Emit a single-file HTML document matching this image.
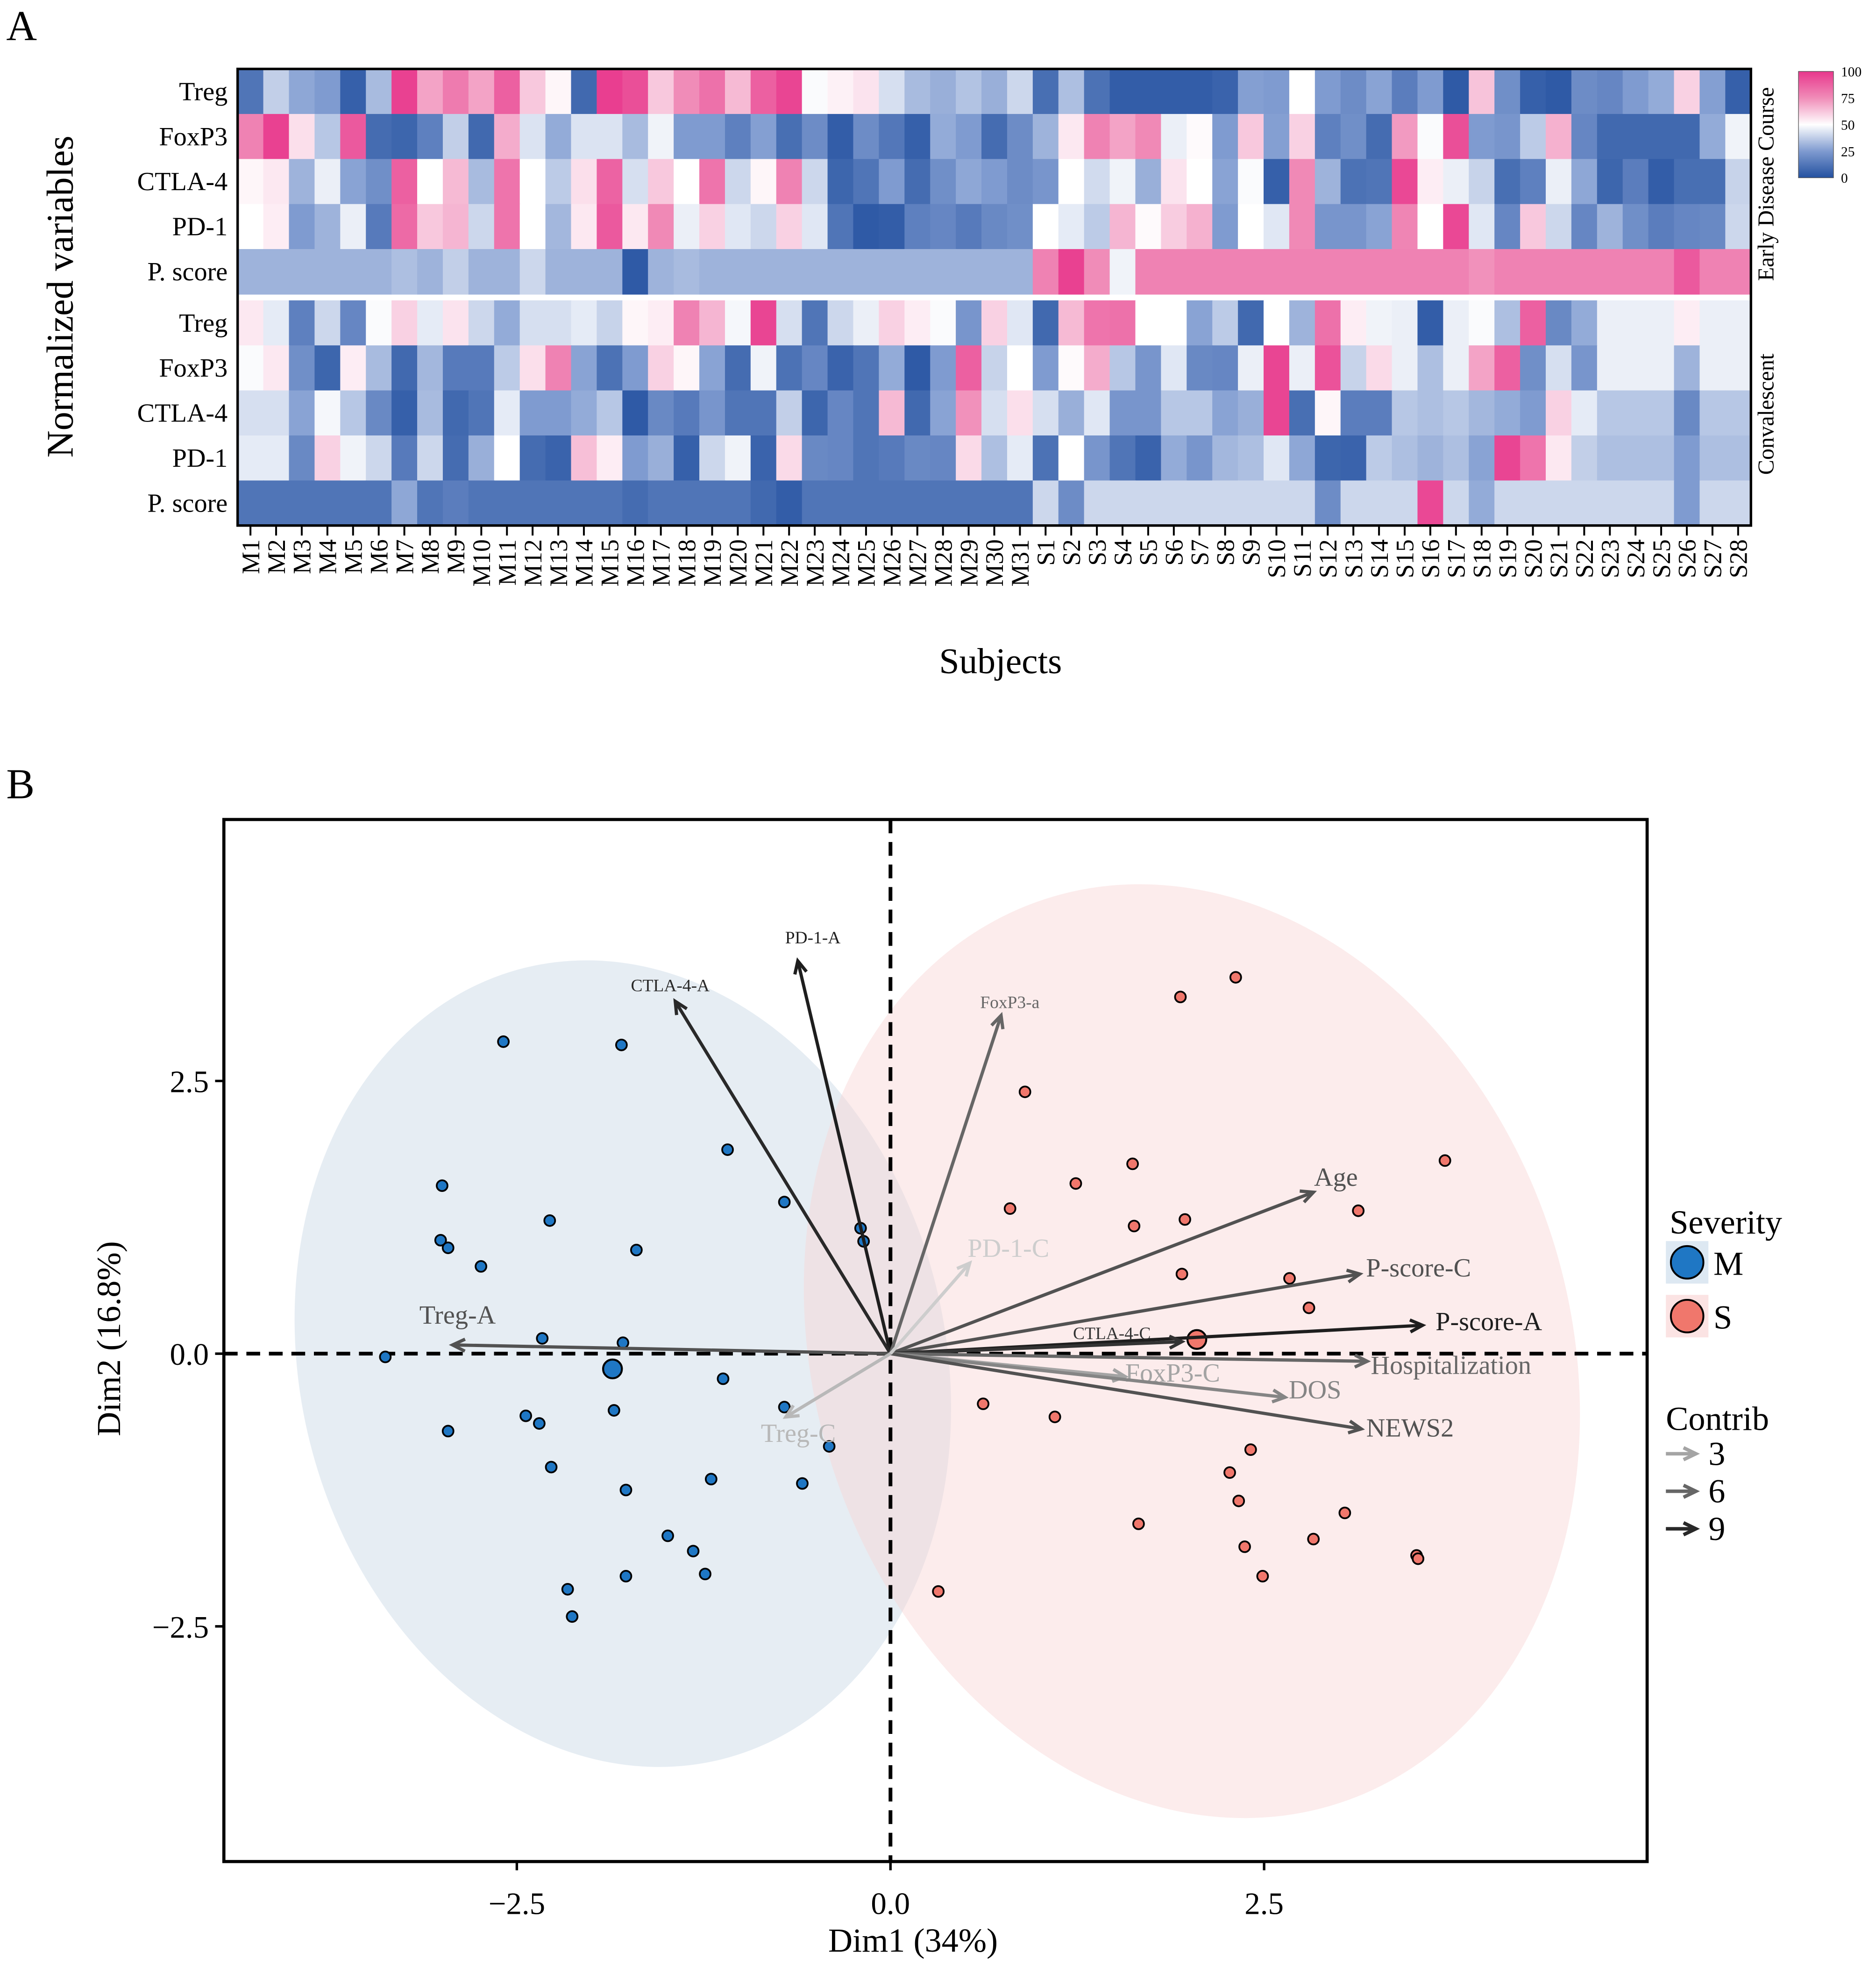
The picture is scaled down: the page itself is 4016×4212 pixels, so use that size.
<!DOCTYPE html>
<html><head><meta charset="utf-8">
<style>
html,body{margin:0;padding:0;background:#fff;}
svg{display:block;font-family:"Liberation Serif",serif;}
</style></head>
<body>
<svg id="fig" xmlns="http://www.w3.org/2000/svg" width="4016" height="4212" viewBox="0 0 1500 1573">
<rect x="0" y="0" width="1500" height="1573" fill="#fff"/>
<text x="5" y="32" font-size="34">A</text>
<text x="5" y="638" font-size="34">B</text>
<g id="heat"></g>
<g id="pca"></g>
</svg>
<script>
// ---------- Heatmap data ----------
const subjects = ["M1","M2","M3","M4","M5","M6","M7","M8","M9","M10","M11","M12","M13","M14","M15","M16","M17","M18","M19","M20","M21","M22","M23","M24","M25","M26","M27","M28","M29","M30","M31","S1","S2","S3","S4","S5","S6","S7","S8","S9","S10","S11","S12","S13","S14","S15","S16","S17","S18","S19","S20","S21","S22","S23","S24","S25","S26","S27","S28"];
const rowLabels = ["Treg","FoxP3","CTLA-4","PD-1","P. score","Treg","FoxP3","CTLA-4","PD-1","P. score"];
const earlyTreg = [12,38,28,25,5,33,97,70,80,70,88,62,52,8,98,93,62,75,83,65,88,96,49,53,56,42,33,30,35,30,40,10,34,11,4,4,4,4,6,26,25,50,25,20,27,15,25,3,63,21,5,3,20,18,25,29,60,26,5];
const earlyFoxP3 = [78,97,57,36,90,9,7,16,38,8,68,43,29,43,43,33,47,25,25,16,26,10,20,4,20,13,5,29,25,9,20,31,55,78,70,76,46,51,25,62,26,60,16,21,9,72,49,93,25,23,37,67,18,8,8,8,8,29,47];
const earlyCTLA4 = [52,55,31,46,27,21,88,50,65,33,82,50,37,57,87,42,62,50,82,40,52,78,40,7,12,25,9,21,28,25,20,23,50,41,47,30,56,50,27,49,5,76,31,11,12,95,54,46,39,10,16,46,28,7,15,4,10,10,39];
const earlyPD1 = [50,54,25,31,46,14,85,62,66,40,82,50,32,55,90,55,76,46,60,44,40,60,44,12,3,4,16,18,14,19,21,50,45,37,66,51,61,67,25,50,44,76,23,23,27,77,50,95,44,18,62,40,18,31,21,15,18,19,40];
const earlyPscore = [31,31,31,31,31,31,34,31,38,31,31,40,31,31,31,3,31,33,31,31,31,31,31,31,31,31,31,31,31,31,31,78,97,75,47,78,78,78,78,78,78,78,78,78,78,78,78,78,74,78,78,78,78,78,78,78,90,78,78];
const convTreg = [55,45,16,40,18,49,60,45,56,40,29,42,42,45,39,52,54,78,66,48,96,42,12,40,46,60,54,49,23,60,44,8,65,82,83,50,50,27,37,8,50,31,83,54,47,46,4,46,49,34,88,19,29,46,46,46,54,46,46];
const convFoxP3 = [49,55,21,7,54,33,8,32,14,14,37,57,78,27,11,25,60,52,27,9,47,11,18,6,12,29,3,25,88,39,50,25,51,68,36,23,44,19,18,46,96,46,92,39,58,46,34,46,70,88,21,42,23,46,46,46,31,46,46];
const convCTLA4 = [42,42,27,48,36,19,5,33,8,12,45,25,25,29,36,3,19,14,23,12,12,38,7,18,12,65,8,27,74,42,57,42,30,44,23,23,36,36,27,30,96,10,52,15,15,36,34,36,32,29,25,60,45,36,36,36,19,36,36];
const convPD1 = [45,45,19,60,47,40,14,40,9,30,50,9,6,64,54,25,30,5,40,47,6,58,19,18,12,14,19,18,58,34,45,11,50,23,12,6,29,23,32,34,44,28,7,6,37,34,31,34,27,96,82,55,38,34,34,34,25,34,34];
const convPscore = [12,12,12,12,12,12,28,12,15,12,12,12,12,12,12,9,12,12,12,12,8,4,12,12,12,12,12,12,12,12,12,40,20,40,40,40,40,40,40,40,40,40,20,40,40,40,95,40,29,40,40,40,40,40,40,40,25,40,40];
const heatRows = [earlyTreg,earlyFoxP3,earlyCTLA4,earlyPD1,earlyPscore,convTreg,convFoxP3,convCTLA4,convPD1,convPscore];
const legendTicks = [100,75,50,25,0];

// ---------- PCA data ----------
const mildX = [-2.59,-1.80,-1.09,-3.00,-2.28,-0.71,-3.01,-2.96,-1.70,-2.74,-2.33,-1.79,-3.38,-2.96,-2.44,-2.35,-2.27,-1.85,-1.12,-0.71,-0.41,-1.20,-0.59,-1.77,-1.49,-1.32,-1.24,-1.77,-2.16,-2.13,-0.20,-0.18];
const mildY = [2.86,2.83,1.87,1.54,1.22,1.39,1.04,0.97,0.95,0.80,0.14,0.10,-0.03,-0.71,-0.57,-0.64,-1.04,-0.52,-0.23,-0.49,-0.85,-1.15,-1.19,-1.25,-1.67,-1.81,-2.02,-2.04,-2.16,-2.41,1.15,1.03];
const severeX = [2.31,1.94,0.90,3.71,1.62,1.24,0.80,3.13,1.63,1.97,1.95,2.67,2.80,0.62,1.10,2.41,2.27,2.33,3.04,1.66,2.83,2.37,2.49,3.52,3.53,0.32];
const severeY = [3.45,3.27,2.40,1.77,1.74,1.56,1.33,1.31,1.17,1.23,0.73,0.69,0.42,-0.46,-0.58,-0.88,-1.09,-1.35,-1.46,-1.56,-1.70,-1.77,-2.04,-1.85,-1.88,-2.18];
const groupMeanX = [-1.86, 2.05];
const groupMeanY = [-0.14, 0.13];
const varNames = ["PD-1-A","CTLA-4-A","FoxP3-a","Age","P-score-C","P-score-A","CTLA-4-C","Hospitalization","FoxP3-C","DOS","NEWS2","Treg-A","Treg-C","PD-1-C"];
const varX = [-0.62,-1.44,0.74,2.83,3.14,3.56,1.95,3.19,1.57,2.64,3.15,-2.93,-0.70,0.53];
const varY = [3.60,3.23,3.10,1.48,0.73,0.26,0.11,-0.07,-0.21,-0.40,-0.69,0.08,-0.58,0.83];
const varContrib = [9.5,9,6,7,7,9.5,8.5,6,3,4.5,7,7,2,1];
const xTicks = [-2.5,0,2.5];
const yTicks = [2.5,0,-2.5];
const contribLegend = [3,6,9];

const NS="http://www.w3.org/2000/svg";
function mk(tag,attrs,parent,text){const e=document.createElementNS(NS,tag);for(const k in attrs)e.setAttribute(k,attrs[k]);if(text!==undefined)e.textContent=text;parent.appendChild(e);return e;}
function hex(c){return [parseInt(c.slice(1,3),16),parseInt(c.slice(3,5),16),parseInt(c.slice(5,7),16)];}
const stops=[[0,"#2451a0"],[25,"#7f9bd0"],[50,"#ffffff"],[75,"#f08cb8"],[100,"#e8378c"]];
function colorOf(v){v=Math.max(0,Math.min(100,v));for(let i=0;i<stops.length-1;i++){const a=stops[i],b=stops[i+1];if(v<=b[0]){const t=(v-a[0])/(b[0]-a[0]);const ca=hex(a[1]),cb=hex(b[1]);return "rgb("+ca.map((x,j)=>Math.round(x+(cb[j]-x)*t)).join(",")+")";}}return stops[4][1];}

// ---------- Draw heatmap ----------
const H=document.getElementById('heat');
const hx0=190,hx1=1400,cw=(hx1-hx0)/subjects.length,rh=36,gap=5,hy0=55;
function rowY(r){return hy0+r*rh+(r>=5?gap:0);}
heatRows.forEach((row,r)=>{
  row.forEach((v,c)=>{
    const cell=mk('rect',{x:hx0+c*cw,y:rowY(r),width:cw+0.6,height:rh+0.4,fill:colorOf(v)},H);
    
    
  });
  const t=mk('text',{x:182,y:rowY(r)+rh/2+7,'font-size':21,'text-anchor':'end'},H,rowLabels[r]);
  
  
});
const hb=mk('rect',{x:hx0,y:hy0,width:hx1-hx0,height:rowY(9)+rh-hy0,fill:'none',stroke:'#000','stroke-width':2},H);


subjects.forEach((s,c)=>{
  const cx=hx0+(c+0.5)*cw;
  const tk=mk('line',{x1:cx,y1:421,x2:cx,y2:428,stroke:'#000','stroke-width':1.5},H);
  
  
  const t=mk('text',{x:cx+7,y:431,'font-size':20,'text-anchor':'end',transform:'rotate(-90 '+(cx+7)+' 431)'},H,s);
  
  
});
let t1=mk('text',{x:800,y:538,'font-size':29,'text-anchor':'middle'},H,'Subjects');


t1=mk('text',{x:58,y:237,'font-size':30,'text-anchor':'middle',transform:'rotate(-90 58 237)'},H,'Normalized variables');


t1=mk('text',{x:1418,y:147,'font-size':18,'text-anchor':'middle',transform:'rotate(-90 1418 147)'},H,'Early Disease Course');


t1=mk('text',{x:1418,y:331,'font-size':18,'text-anchor':'middle',transform:'rotate(-90 1418 331)'},H,'Convalescent');


// colour legend
const defs=mk('defs',{},H);
const lg=mk('linearGradient',{id:'cg',x1:0,y1:1,x2:0,y2:0},defs);
stops.forEach(s=>mk('stop',{offset:s[0]+'%','stop-color':s[1]},lg));
const lb=mk('rect',{x:1438,y:57,width:28,height:85,fill:'url(#cg)',stroke:'#555','stroke-width':0.5},H);


legendTicks.forEach(v=>{
  const y=142-v/100*85;
  const t=mk('text',{x:1472,y:y+4,'font-size':11},H,String(v));
  
  
});

// ---------- Draw PCA ----------
const P=document.getElementById('pca');
const px0=179,px1=1317,py0=655,py1=1488;
function sx(v){return 712+v*119.5;}
function sy(v){return 1082-v*87.2;}
let e=mk('ellipse',{cx:498,cy:1090,rx:258,ry:326,fill:'#c8d6e5','fill-opacity':0.45,transform:'rotate(-14 498 1090)'},P);


e=mk('ellipse',{cx:953,cy:1080,rx:302,ry:380,fill:'#f9d4d4','fill-opacity':0.45,transform:'rotate(-18 953 1080)'},P);


let ln=mk('line',{x1:sx(0),y1:py0,x2:sx(0),y2:py1,stroke:'#000','stroke-width':3,'stroke-dasharray':'11 7'},P);


ln=mk('line',{x1:px0,y1:sy(0),x2:px1,y2:sy(0),stroke:'#000','stroke-width':3,'stroke-dasharray':'11 7'},P);


// points
function pts(X,Y,fill,name){X.forEach((v,i)=>{const c=mk('circle',{cx:sx(v),cy:sy(Y[i]),r:4.3,fill:fill,stroke:'#000','stroke-width':1.4},P);});}
pts(mildX,mildY,'#1f77c4','mild-point');
pts(severeX,severeY,'#f0776c','severe-point');
groupMeanX.forEach((v,i)=>{const c=mk('circle',{cx:sx(v),cy:sy(groupMeanY[i]),r:7.5,fill:i?'#f0776c':'#1f77c4',stroke:'#000','stroke-width':1.6},P);});
// arrows
function grey(c){const g=Math.round(225-c/10*205);return 'rgb('+g+','+g+','+g+')';}
const labelOff={"PD-1-A":[12,-14,'middle',14],"CTLA-4-A":[-4,-8,'middle',14],"FoxP3-a":[7,-6,'middle',14],"Age":[18,-5,'middle',21],"P-score-C":[47,2,'middle',21],"P-score-A":[53,4,'middle',21],"CTLA-4-C":[-56,-2,'middle',14],"Hospitalization":[67,10,'middle',21],"FoxP3-C":[38,4,'middle',21],"DOS":[24,1,'middle',21],"NEWS2":[39,6,'middle',21],"Treg-A":[4,-17,'middle',21],"Treg-C":[10,20,'middle',21],"PD-1-C":[31,-5,'middle',21]};
function arrow(x1,y1,x2,y2,col,w){
  const g=mk('g',{},P);
  mk('line',{x1:x1,y1:y1,x2:x2,y2:y2,stroke:col,'stroke-width':w},g);
  const a=Math.atan2(y2-y1,x2-x1),L=11,s=0.45;
  mk('polyline',{points:(x2-L*Math.cos(a-s))+','+(y2-L*Math.sin(a-s))+' '+x2+','+y2+' '+(x2-L*Math.cos(a+s))+','+(y2-L*Math.sin(a+s)),fill:'none',stroke:col,'stroke-width':w},g);
  return g;
}
varNames.forEach((n,i)=>{
  const col=grey(varContrib[i]);
  const g=arrow(sx(0),sy(0),sx(varX[i]),sy(varY[i]),col,2.6);
  
  
  const o=labelOff[n];
  const t=mk('text',{x:sx(varX[i])+o[0],y:sy(varY[i])+o[1],'font-size':o[3],'text-anchor':o[2],fill:col},P,n);
  
  
});
const fr=mk('rect',{x:px0,y:py0,width:px1-px0,height:py1-py0,fill:'none',stroke:'#000','stroke-width':2.5},P);


xTicks.forEach(v=>{
  const tk=mk('line',{x1:sx(v),y1:py1,x2:sx(v),y2:py1+7,stroke:'#000','stroke-width':2},P);
  
  
  const t=mk('text',{x:sx(v),y:1530,'font-size':25,'text-anchor':'middle'},P,v===0?'0.0':(v<0?'\u2212':'')+Math.abs(v).toFixed(1));
  
  
});
yTicks.forEach(v=>{
  const tk=mk('line',{x1:px0-7,y1:sy(v),x2:px0,y2:sy(v),stroke:'#000','stroke-width':2},P);
  
  
  const t=mk('text',{x:167,y:sy(v)+9,'font-size':25,'text-anchor':'end'},P,v===0?'0.0':(v<0?'\u2212':'')+Math.abs(v).toFixed(1));
  
  
});
t1=mk('text',{x:730,y:1560,'font-size':27,'text-anchor':'middle'},P,'Dim1 (34%)');


t1=mk('text',{x:96,y:1070,'font-size':27,'text-anchor':'middle',transform:'rotate(-90 96 1070)'},P,'Dim2 (16.8%)');


// legend
t1=mk('text',{x:1335,y:986,'font-size':27},P,'Severity');


[['M','#1f77c4','#dde8f2',1009],['S','#f0776c','#fbe3e3',1052]].forEach(d=>{
  mk('rect',{x:1332,y:d[3]-17,width:34,height:34,fill:d[2]},P);
  const c=mk('circle',{cx:1349,cy:d[3],r:13,fill:d[1],stroke:'#000','stroke-width':1.5},P);
  
  
  const t=mk('text',{x:1370,y:d[3]+10,'font-size':27},P,d[0]);
  
  
});
t1=mk('text',{x:1332,y:1143,'font-size':27},P,'Contrib');


contribLegend.forEach((v,i)=>{
  const y=1162+i*30;
  const g=arrow(1332,y,1356,y,grey(v),2.8);
  
  
  const t=mk('text',{x:1366,y:y+9,'font-size':27},P,String(v));
  
  
});
</script>
</body></html>
